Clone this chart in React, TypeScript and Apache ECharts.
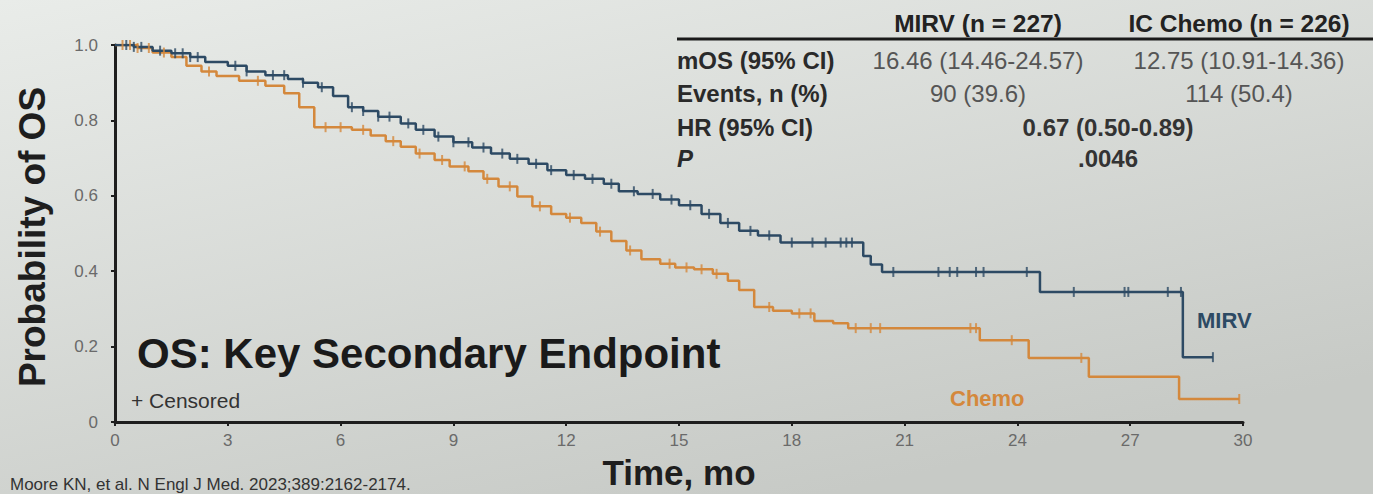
import React, { useEffect, useRef } from "react";
import * as echarts from "echarts";

// ---- Data ----
const xTicks = [0, 3, 6, 9, 12, 15, 18, 21, 24, 27, 30];
const yTicks = [0, 0.2, 0.4, 0.6, 0.8, 1.0];

// Kaplan-Meier step points: [time (mo), survival]
const mirvTimes = [0, 0.5, 1.0, 1.5, 2.0, 2.4, 3.0, 3.5, 4.0, 4.6, 5.0, 5.4, 5.8, 6.2, 6.6, 7.0, 7.6, 8.0, 8.5, 9.0, 9.5, 10.0, 10.5, 11.0, 11.5, 12.0, 12.5, 13.0, 13.4, 13.9, 14.5, 15.0, 15.6, 16.1, 16.6, 17.1, 17.7, 19.9, 20.1, 20.4, 24.6, 28.4, 29.2];
const mirvSurv = [1.0, 0.995, 0.985, 0.978, 0.968, 0.955, 0.945, 0.93, 0.92, 0.91, 0.9, 0.888, 0.865, 0.835, 0.825, 0.81, 0.792, 0.775, 0.757, 0.742, 0.728, 0.712, 0.698, 0.685, 0.668, 0.655, 0.645, 0.632, 0.612, 0.605, 0.59, 0.575, 0.552, 0.528, 0.507, 0.495, 0.476, 0.44, 0.418, 0.398, 0.345, 0.172, 0.172];

const chemoTimes = [0, 0.6, 1.0, 1.5, 1.9, 2.3, 2.7, 3.3, 4.0, 4.5, 4.9, 5.3, 6.3, 6.8, 7.2, 7.6, 8.0, 8.5, 8.9, 9.4, 9.8, 10.2, 10.7, 11.1, 11.6, 12.0, 12.4, 12.8, 13.2, 13.6, 14.0, 14.5, 14.9, 15.4, 15.9, 16.3, 16.6, 17.0, 17.5, 18.0, 18.6, 19.1, 19.5, 23.0, 24.3, 25.9, 28.3, 29.9];
const chemoSurv = [1.0, 0.992, 0.98, 0.968, 0.945, 0.93, 0.918, 0.905, 0.892, 0.872, 0.835, 0.782, 0.775, 0.76, 0.745, 0.73, 0.712, 0.695, 0.678, 0.665, 0.645, 0.625, 0.598, 0.572, 0.552, 0.542, 0.528, 0.505, 0.48, 0.455, 0.432, 0.42, 0.41, 0.405, 0.393, 0.375, 0.35, 0.305, 0.295, 0.288, 0.268, 0.262, 0.249, 0.217, 0.17, 0.12, 0.061, 0.061];

// Censoring times
const mirvCensor = [0.3, 0.5, 0.7, 1.2, 1.6, 1.8, 2.0, 2.2, 3.2, 3.5, 4.2, 4.5, 5.0, 5.5, 6.3, 6.6, 7.0, 7.3, 7.8, 8.2, 8.6, 9.0, 9.4, 9.8, 10.3, 10.7, 11.2, 11.6, 12.2, 12.7, 13.2, 13.8, 14.3, 14.8, 15.3, 15.8, 16.3, 16.9, 17.4, 18.0, 18.55, 18.9, 19.3, 19.45, 19.6, 20.7, 21.9, 22.2, 22.4, 22.9, 23.1, 24.25, 25.5, 26.85, 26.95, 28.0, 28.35, 29.2];
const chemoCensor = [0.2, 0.4, 0.6, 0.9, 1.3, 2.5, 3.8, 5.6, 6.0, 6.6, 7.4, 8.1, 8.7, 9.3, 9.9, 10.5, 11.3, 12.1, 12.9, 13.7, 14.75, 15.2, 15.6, 16.0, 17.4, 18.2, 18.5, 19.7, 20.1, 20.35, 22.75, 22.9, 23.85, 25.7, 29.9];

// Table
const tableHeaders = ["MIRV (n = 227)", "IC Chemo (n = 226)"];
const rowLabels = ["mOS (95% CI)", "Events, n (%)", "HR (95% CI)", "P"];
const mirvCol = ["16.46 (14.46-24.57)", "90 (39.6)"];
const chemoCol = ["12.75 (10.91-14.36)", "114 (50.4)"];
const sharedCol = ["0.67 (0.50-0.89)", ".0046"];

const MIRV_COLOR = "#2d4a64";
const CHEMO_COLOR = "#d4883c";
const FONT = "'Liberation Sans', Arial, Helvetica, sans-serif";

function survAt(times: number[], surv: number[], t: number) {
  let v = surv[0];
  for (let i = 0; i < times.length; i++) {
    if (times[i] <= t) v = surv[i];
  }
  return v;
}

export default function App() {
  const ref = useRef<HTMLDivElement>(null);
  useEffect(() => {
    if (!ref.current) return;
    const chart = echarts.init(ref.current, undefined, { renderer: "svg" });

    const mirvLine = mirvTimes.map((t, i) => [t, mirvSurv[i]]);
    const chemoLine = chemoTimes.map((t, i) => [t, chemoSurv[i]]);
    const mirvC = mirvCensor.map((t) => [t, survAt(mirvTimes, mirvSurv, t)]);
    const chemoC = chemoCensor.map((t) => [t, survAt(chemoTimes, chemoSurv, t)]);

    const txt = (text: string, x: number, y: number, size: number, opts: any = {}) => ({
      type: "text",
      x,
      y,
      rotation: opts.rotation || 0,
      style: {
        text,
        fill: opts.fill || "#222",
        font: `${opts.italic ? "italic " : ""}${opts.bold ? "bold " : ""}${size}px ${FONT}`,
        align: opts.align || "left",
        verticalAlign: "middle",
      },
      z: 100,
    });

    const graphics: any[] = [];
    // Y axis title
    graphics.push(txt("Probability of OS", 32, 237, 37, { bold: true, align: "center", rotation: Math.PI / 2, fill: "#1e1e1e" }));
    // X axis title
    graphics.push(txt("Time, mo", 679, 472, 35, { bold: true, align: "center", fill: "#1e1e1e" }));
    // Main title
    graphics.push(txt("OS: Key Secondary Endpoint", 137, 353, 42, { bold: true, fill: "#1a1a1a" }));
    graphics.push(txt("+ Censored", 131, 400, 21, { fill: "#333" }));
    // Curve labels
    graphics.push(txt("MIRV", 1197, 320, 22, { bold: true, fill: MIRV_COLOR }));
    graphics.push(txt("Chemo", 950, 398, 22, { bold: true, fill: CHEMO_COLOR }));
    // Table
    graphics.push(txt(tableHeaders[0], 978, 23, 24.5, { bold: true, align: "center", fill: "#222" }));
    graphics.push(txt(tableHeaders[1], 1239, 23, 24.5, { bold: true, align: "center", fill: "#222" }));
    graphics.push({
      type: "line",
      shape: { x1: 677, y1: 39, x2: 1373, y2: 39 },
      style: { stroke: "#1a1a1a", lineWidth: 3 },
      z: 100,
    });
    const rowY = [60, 93, 127, 158];
    rowLabels.forEach((l, i) => {
      graphics.push(txt(l, 677, rowY[i], 24, { bold: true, italic: l === "P", fill: "#2a2a2a" }));
    });
    mirvCol.forEach((v, i) => graphics.push(txt(v, 978, rowY[i], 24, { align: "center", fill: "#555" })));
    chemoCol.forEach((v, i) => graphics.push(txt(v, 1239, rowY[i], 24, { align: "center", fill: "#555" })));
    sharedCol.forEach((v, i) => graphics.push(txt(v, 1108, rowY[i + 2], 24, { bold: true, align: "center", fill: "#333" })));
    // Citation
    graphics.push(txt("Moore KN, et al. N Engl J Med. 2023;389:2162-2174.", 10, 484, 17, { fill: "#333" }));

    chart.setOption({
      animation: false,
      backgroundColor: {
        type: "linear",
        x: 0,
        y: 0,
        x2: 0.6,
        y2: 1,
        colorStops: [
          { offset: 0, color: "#e9ece9" },
          { offset: 1, color: "#c7cac6" },
        ],
      },
      grid: { left: 115, right: 130, top: 45, bottom: 72, containLabel: false },
      xAxis: {
        type: "value",
        min: 0,
        max: 30,
        interval: 3,
        axisLine: { show: true, onZero: false, lineStyle: { color: "#1e1e1e", width: 3 } },
        axisTick: { show: true, length: 4, lineStyle: { color: "#1e1e1e", width: 2 } },
        axisLabel: { color: "#6a6a6a", fontSize: 17, fontFamily: FONT, margin: 10 },
        splitLine: { show: false },
      },
      yAxis: {
        type: "value",
        min: 0,
        max: 1,
        interval: 0.2,
        axisLine: { show: true, onZero: false, lineStyle: { color: "#1e1e1e", width: 3 } },
        axisTick: { show: true, length: 4, lineStyle: { color: "#1e1e1e", width: 2 } },
        axisLabel: {
          color: "#6a6a6a",
          fontSize: 17,
          fontFamily: FONT,
          margin: 17,
          formatter: (v: number) => (v === 0 ? "0" : v.toFixed(1)),
        },
        splitLine: { show: false },
      },
      series: [
        {
          type: "line",
          name: "MIRV",
          step: "end",
          data: mirvLine,
          showSymbol: false,
          lineStyle: { color: MIRV_COLOR, width: 2.5 },
          z: 5,
        },
        {
          type: "line",
          name: "Chemo",
          step: "end",
          data: chemoLine,
          showSymbol: false,
          lineStyle: { color: CHEMO_COLOR, width: 2.5 },
          z: 4,
        },
        {
          type: "scatter",
          name: "MIRV censored",
          data: mirvC,
          symbol: "rect",
          symbolSize: [2, 10],
          itemStyle: { color: MIRV_COLOR },
          z: 6,
        },
        {
          type: "scatter",
          name: "Chemo censored",
          data: chemoC,
          symbol: "rect",
          symbolSize: [2, 10],
          itemStyle: { color: CHEMO_COLOR },
          z: 5,
        },
      ],
      graphic: graphics,
    });
    return () => chart.dispose();
  }, []);
  return <div ref={ref} style={{ position: "fixed", left: 0, top: 0, width: 1373, height: 494 }} />;
}
